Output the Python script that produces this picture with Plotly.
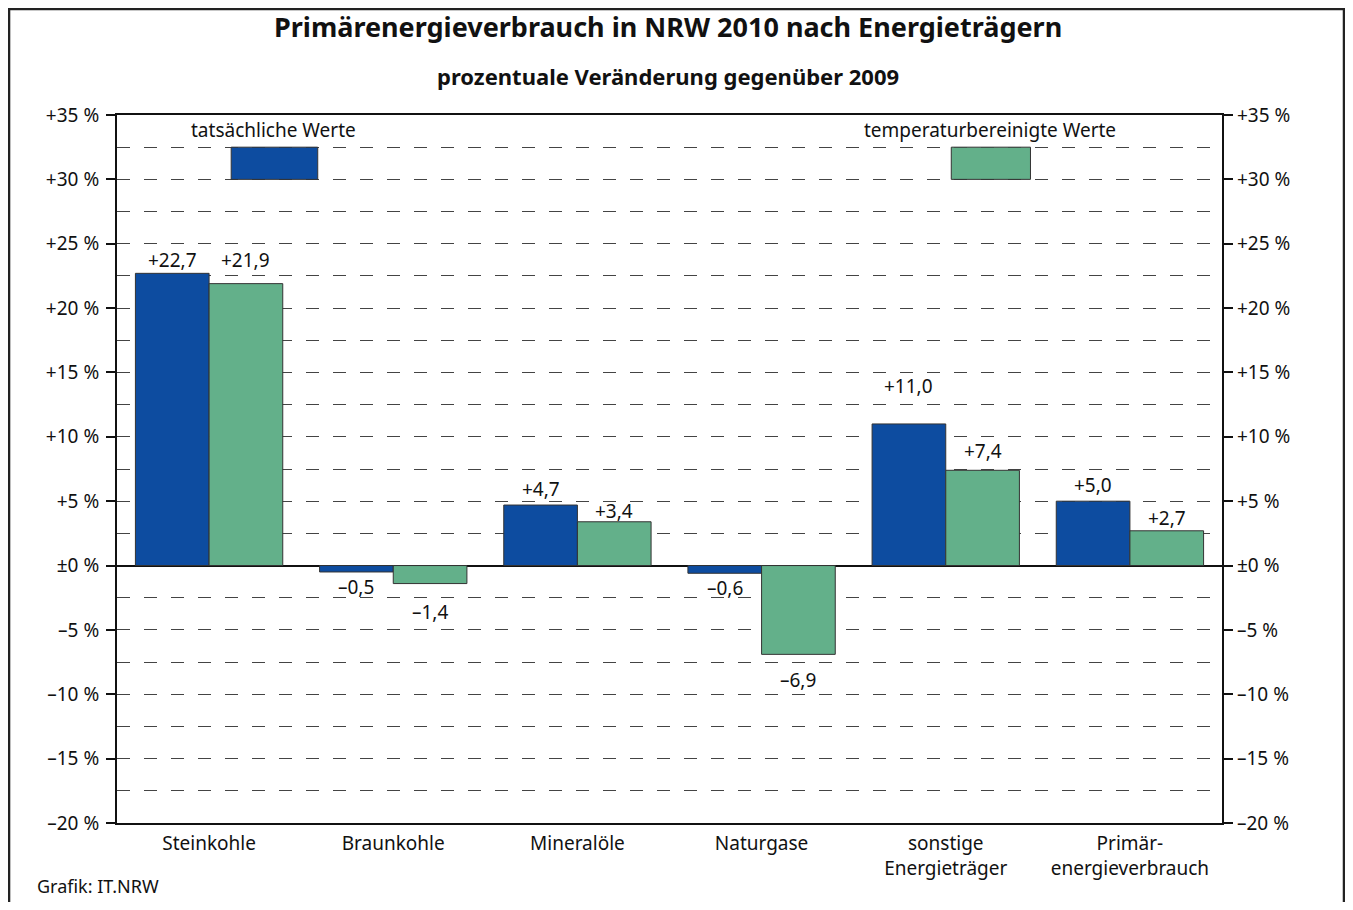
import plotly.graph_objects as go

# Primärenergieverbrauch NRW 2010, Veränderung ggü. 2009 in %
kategorien = ["Steinkohle", "Braunkohle", "Mineralöle", "Naturgase",
              "sonstige<br>Energieträger", "Primär-<br>energieverbrauch"]
tatsaechlich = [22.7, -0.5, 4.7, -0.6, 11.0, 5.0]
temperaturbereinigt = [21.9, -1.4, 3.4, -6.9, 7.4, 2.7]

tick_werte = [35, 30, 25, 20, 15, 10, 5, 0, -5, -10, -15, -20]
tick_texte = ["+35 %", "+30 %", "+25 %", "+20 %", "+15 %", "+10 %", "+5 %",
              "±0 %", "–5 %", "–10 %", "–15 %", "–20 %"]
zwischen_werte = [32.5, 27.5, 22.5, 17.5, 12.5, 7.5, 2.5,
                  -2.5, -7.5, -12.5, -17.5]

# Abstand der Wertbeschriftung vom Balkenende (px), wie im Original gesetzt
abstand_blau = [13, -15, 16, -15, 38, 16]
abstand_gruen = [24, -28, 11, -26, 19, 13]

BLAU = "#0d4ca0"
GRUEN = "#63b08a"
FONT = "Noto Sans"
GRID = dict(showgrid=True, gridcolor="#444444", gridwidth=1.2, griddash="13px,14px")


def fmt(v):
    return f"{v:+.1f}".replace(".", ",").replace("-", "–")


fig = go.Figure()
for name, werte, farbe in [("tatsächliche Werte", tatsaechlich, BLAU),
                           ("temperaturbereinigte Werte", temperaturbereinigt, GRUEN)]:
    fig.add_trace(go.Bar(
        x=kategorien, y=werte, name=name,
        marker=dict(color=farbe, line=dict(color="#333333", width=1)),
    ))

# Wertbeschriftungen
for werte, abstaende, dx in [(tatsaechlich, abstand_blau, -36.8),
                             (temperaturbereinigt, abstand_gruen, 36.8)]:
    for kat, v, a in zip(kategorien, werte, abstaende):
        fig.add_annotation(x=kat, y=v, xref="x", yref="y", text=fmt(v),
                           showarrow=False, xshift=dx, yshift=a, yanchor="middle",
                           font=dict(size=19, color="#111111"))

fig.update_layout(
    width=1337, height=894,
    margin=dict(l=109, r=123, t=107, b=79),
    paper_bgcolor="white", plot_bgcolor="white",
    barmode="group", bargap=0.2, bargroupgap=0,
    showlegend=False,
    font=dict(family=FONT, size=19, color="#111111"),
    xaxis=dict(showline=True, linecolor="#111111", linewidth=2, mirror=True,
               ticks="", tickfont=dict(size=19), showgrid=False,
               ticklabelstandoff=2),
    yaxis=dict(range=[-20, 35], tickvals=tick_werte, ticktext=tick_texte,
               showline=True, linecolor="#111111", linewidth=2, mirror="ticks",
               ticks="outside", ticklen=9, tickwidth=2, tickcolor="#111111",
               ticklabelstandoff=3, tickfont=dict(size=19),
               zeroline=True, zerolinecolor="#111111", zerolinewidth=2,
               minor=dict(tickvals=zwischen_werte, ticks="", **GRID),
               **GRID),
    yaxis2=dict(range=[-20, 35], overlaying="y", side="right",
                tickvals=tick_werte, ticktext=tick_texte, showgrid=False,
                zeroline=False, ticks="", ticklabelstandoff=14,
                tickfont=dict(size=19)),
)

# Legende als Kästchen im Diagramm
fig.add_shape(type="rect", xref="x", yref="y", x0=0.12, x1=0.59, y0=30, y1=32.5,
              fillcolor=BLAU, line=dict(color="#333333", width=1))
fig.add_shape(type="rect", xref="x", yref="y", x0=4.03, x1=4.46, y0=30, y1=32.5,
              fillcolor=GRUEN, line=dict(color="#333333", width=1))
fig.add_annotation(x=0.35, y=33.8, xref="x", yref="y", text="tatsächliche Werte",
                   showarrow=False, font=dict(size=19), yanchor="middle")
fig.add_annotation(x=4.24, y=33.8, xref="x", yref="y", text="temperaturbereinigte Werte",
                   showarrow=False, font=dict(size=19), yanchor="middle")

# Titel, Untertitel, Quelle
fig.add_annotation(x=0.4986, y=1.1243, xref="paper", yref="paper",
                   text="<b>Primärenergieverbrauch in NRW 2010 nach Energieträgern</b>",
                   showarrow=False, font=dict(size=27), yanchor="middle")
fig.add_annotation(x=0.4986, y=1.0551, xref="paper", yref="paper",
                   text="<b>prozentuale Veränderung gegenüber 2009</b>",
                   showarrow=False, font=dict(size=22), yanchor="middle")
fig.add_annotation(x=-0.0742, y=-0.089, xref="paper", yref="paper",
                   text="Grafik: IT.NRW", showarrow=False, xanchor="left",
                   font=dict(size=18), yanchor="middle")

# Rahmen um die Grafik
fig.add_shape(type="rect", xref="paper", yref="paper",
              x0=-0.0977, x1=1.1104, y0=-0.3, y1=1.1497,
              line=dict(color="#222222", width=2.5), fillcolor="rgba(0,0,0,0)")

fig.add_trace(go.Scatter(x=[kategorien[0]], y=[0], yaxis="y2", mode="markers",
                         marker=dict(opacity=0), hoverinfo="skip", showlegend=False))

fig.write_html("out.html")
